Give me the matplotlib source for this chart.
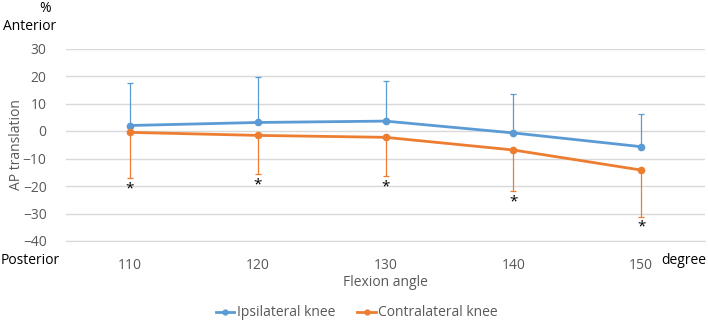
import numpy as np
from matplotlib import pyplot as plt
from matplotlib.lines import Line2D

plt.rcParams['font.family'] = ['Open Sans', 'DejaVu Sans']

# flexion angles (degree)
angles = [110, 120, 130, 140, 150]

# mean AP translation (%) and SD
ipsi_mean = [2.0, 3.1, 3.6, -0.7, -5.7]
ipsi_sd = [15.3, 16.4, 14.5, 14.1, 12.0]
contra_mean = [-0.5, -1.6, -2.3, -6.9, -14.2]
contra_sd = [16.7, 13.9, 13.9, 14.9, 17.1]

# significance marks (y position of the asterisk)
star_y = [-21.2, -19.6, -20.2, -25.9, -34.8]

blue = '#5B9BD5'
orange = '#ED7D31'
grey = '#595959'

fig = plt.figure(figsize=(7.08, 3.23), dpi=100)
ax = fig.add_axes([66 / 708, 1 - 241 / 323, 639 / 708, 192.5 / 323])

ax.errorbar(angles, ipsi_mean, yerr=[np.zeros(5), ipsi_sd], color=blue,
            lw=2, marker='o', ms=4.5, elinewidth=0.9, capsize=2.5, capthick=0.9,
            zorder=3)
ax.errorbar(angles, contra_mean, yerr=[contra_sd, np.zeros(5)], color=orange,
            lw=2, marker='o', ms=4.5, elinewidth=0.9, capsize=2.5, capthick=0.9,
            zorder=3)

for a, s in zip(angles, star_y):
    ax.text(a, s, '*', ha='center', va='center', fontsize=11, color='black')

ax.set_xlim(105, 155)
ax.set_ylim(-40, 30)
ax.set_xticks(angles)
ax.set_yticks(range(-40, 31, 10))
ax.grid(axis='y', color='#d9d9d9', lw=1)
ax.set_axisbelow(True)
for s in ax.spines.values():
    s.set_visible(False)
ax.spines['bottom'].set_visible(True)
ax.spines['bottom'].set_color('#d9d9d9')
ax.tick_params(length=0, labelsize=10, labelcolor=grey, pad=12)
ax.tick_params(axis='y', pad=14)

fig.text(17 / 708, 1 - 145 / 323, 'AP translation', rotation=90, ha='center',
         va='center', fontsize=10, color=grey)
fig.text(385 / 708, 1 - 283 / 323, 'Flexion angle', ha='center', va='center',
         fontsize=10, color=grey)
fig.text(45 / 708, 1 - 9 / 323, '%', ha='center', va='center', fontsize=10)
fig.text(30 / 708, 1 - 27 / 323, 'Anterior', ha='center', va='center', fontsize=10)
fig.text(1 / 708, 1 - 261 / 323, 'Posterior', ha='left', va='center', fontsize=10)
fig.text(706 / 708, 1 - 261 / 323, 'degree', ha='right', va='center', fontsize=10)

handles = [Line2D([], [], color=blue, lw=2, marker='o', ms=3.5),
           Line2D([], [], color=orange, lw=2, marker='o', ms=3.5)]
leg = fig.legend(handles, ['Ipsilateral knee', 'Contralateral knee'], loc='center',
                 bbox_to_anchor=(357 / 708, 1 - 313 / 323), ncol=2,
                 frameon=False, fontsize=10, handlelength=1.3, columnspacing=1.6,
                 handletextpad=0.2)
for t in leg.get_texts():
    t.set_color(grey)

fig.savefig('out.png', dpi=100)
